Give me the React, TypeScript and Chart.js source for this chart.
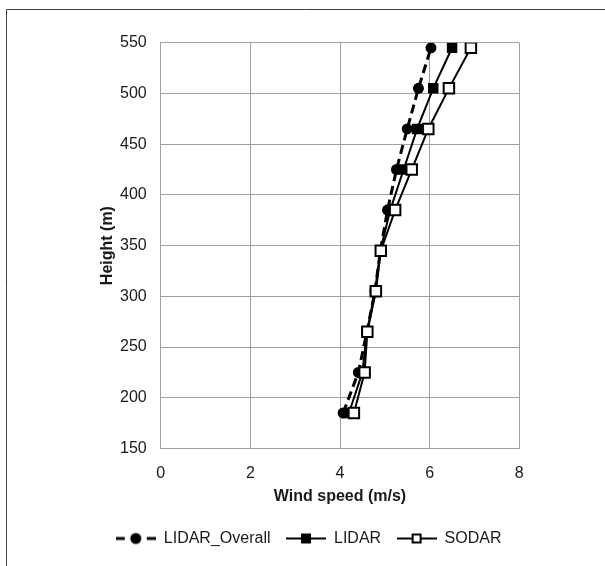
import React, { useEffect, useRef } from "react";
import { Chart, registerables } from "chart.js";

Chart.register(...registerables);

const heights = [185, 225, 265, 305, 345, 385, 425, 465, 505, 545];
const lidarOverall = [4.07, 4.41, 4.6, 4.78, 4.9, 5.06, 5.26, 5.5, 5.75, 6.03];
const lidar = [4.2, 4.5, 4.6, 4.78, 4.9, 5.12, 5.42, 5.72, 6.08, 6.5];
const sodar = [4.31, 4.55, 4.61, 4.8, 4.91, 5.23, 5.6, 5.97, 6.43, 6.92];
const seriesNames = ["LIDAR_Overall", "LIDAR", "SODAR"];
const xTitle = "Wind speed (m/s)";
const yTitle = "Height (m)";

const FONT = "'Liberation Sans', Arial, sans-serif";
const TEXT = "#1a1a1a";
const GRID = "#a0a0a0";

function legendIcon(kind: number): HTMLCanvasElement {
  const c = document.createElement("canvas");
  c.width = 40;
  c.height = 14;
  const g = c.getContext("2d")!;
  const cy = 7;
  g.strokeStyle = "#000";
  g.fillStyle = "#000";
  if (kind === 0) {
    g.fillRect(0, cy - 1.5, 9, 3);
    g.fillRect(31, cy - 1.5, 9, 3);
    g.beginPath();
    g.arc(20, cy, 5.5, 0, Math.PI * 2);
    g.fill();
  } else {
    g.lineWidth = 2;
    g.beginPath();
    g.moveTo(0, cy);
    g.lineTo(40, cy);
    g.stroke();
    if (kind === 1) {
      g.fillRect(15, cy - 5, 10, 10);
    } else {
      g.fillStyle = "#fff";
      g.fillRect(15, cy - 5, 10, 10);
      g.strokeRect(16, cy - 4, 8, 8);
    }
  }
  return c;
}

const framePlugin = {
  id: "frame",
  afterDraw(chart: any) {
    const ctx = chart.ctx;
    ctx.save();
    ctx.strokeStyle = "#404040";
    ctx.lineWidth = 1;
    ctx.beginPath();
    ctx.moveTo(6.5, 566);
    ctx.lineTo(6.5, 9.5);
    ctx.lineTo(605, 9.5);
    ctx.stroke();
    ctx.restore();
  },
};

export default function App() {
  const ref = useRef<HTMLCanvasElement | null>(null);

  useEffect(() => {
    if (!ref.current) return;
    const toPts = (xs: number[]) => xs.map((x, i) => ({ x, y: heights[i] }));
    const icons = [legendIcon(0), legendIcon(1), legendIcon(2)];
    const chart = new Chart(ref.current, {
      type: "line",
      data: {
        datasets: [
          {
            label: seriesNames[0],
            data: toPts(lidarOverall),
            borderColor: "#000",
            backgroundColor: "#000",
            borderWidth: 3,
            borderDash: [9, 5],
            pointStyle: "circle",
            pointRadius: 5.5,
            pointBorderWidth: 0,
            pointBackgroundColor: "#000",
            order: 3,
          },
          {
            label: seriesNames[1],
            data: toPts(lidar),
            borderColor: "#000",
            backgroundColor: "#000",
            borderWidth: 2,
            pointStyle: "rect",
            pointRadius: 7.4,
            pointBorderWidth: 0,
            pointBackgroundColor: "#000",
            order: 2,
          },
          {
            label: seriesNames[2],
            data: toPts(sodar),
            borderColor: "#000",
            backgroundColor: "#fff",
            borderWidth: 2,
            pointStyle: "rect",
            pointRadius: 7.4,
            pointBorderWidth: 2,
            pointBorderColor: "#000",
            pointBackgroundColor: "#fff",
            order: 1,
          },
        ],
      },
      options: {
        responsive: false,
        animation: false,
        layout: { padding: { left: 98, right: 85.7, top: 42.7, bottom: 9.5 } },
        scales: {
          x: {
            type: "linear",
            min: 0,
            max: 8,
            ticks: { stepSize: 2, padding: 15, color: TEXT, font: { family: FONT, size: 16 } },
            grid: { color: GRID, drawTicks: false },
            border: { color: GRID },
            title: {
              display: true,
              text: xTitle,
              color: TEXT,
              font: { family: FONT, size: 16, weight: "bold" },
              padding: { top: 0, bottom: 8.9 },
            },
            afterFit: (s: any) => {
              s.height = 66.5;
            },
          },
          y: {
            type: "linear",
            min: 150,
            max: 550,
            ticks: { stepSize: 50, padding: 14, color: TEXT, font: { family: FONT, size: 16 } },
            grid: { color: GRID, drawTicks: false },
            border: { color: GRID },
            title: {
              display: true,
              text: yTitle,
              color: TEXT,
              font: { family: FONT, size: 16, weight: "bold" },
              padding: { top: 0, bottom: 0 },
            },
            afterFit: (s: any) => {
              s.width = 62.7;
            },
          },
        },
        plugins: {
          tooltip: { enabled: false },
          legend: {
            position: "bottom",
            labels: {
              usePointStyle: true,
              pointStyleWidth: 40,
              padding: 15.5,
              color: TEXT,
              font: { family: FONT, size: 16 },
              generateLabels: (ch: any) =>
                seriesNames.map((name, i) => ({
                  text: name,
                  datasetIndex: i,
                  pointStyle: icons[i],
                  fillStyle: "#000",
                  strokeStyle: "#000",
                  lineWidth: 0,
                  fontColor: TEXT,
                  hidden: !ch.isDatasetVisible(i),
                })),
            },
          },
        },
      },
      plugins: [framePlugin],
    } as any);
    return () => chart.destroy();
  }, []);

  return (
    <div style={{ position: "absolute", left: 0, top: 0, width: 605, height: 566, background: "#fff" }}>
      <canvas ref={ref} width={605} height={566} style={{ display: "block" }} />
    </div>
  );
}
